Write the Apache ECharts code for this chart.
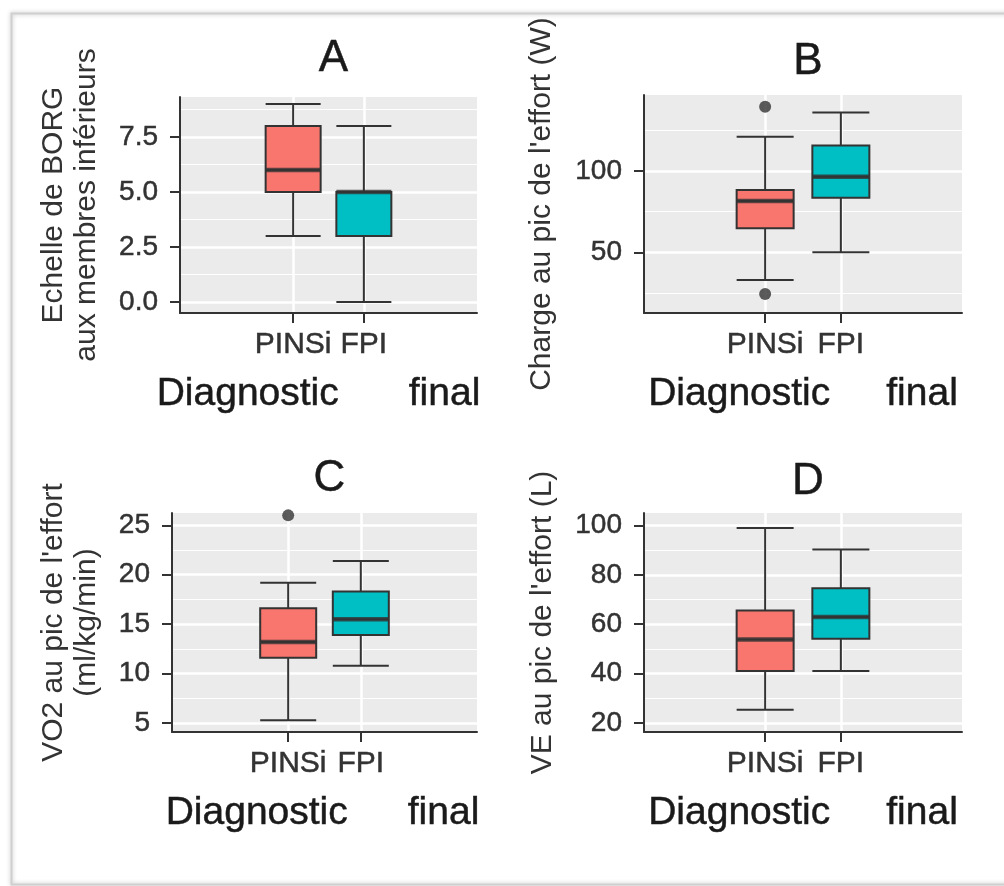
<!DOCTYPE html>
<html>
<head>
<meta charset="utf-8">
<script src="https://cdn.jsdelivr.net/npm/echarts@6/dist/echarts.min.js"></script>
<style>
html, body { margin: 0; padding: 0; background: #fff; }
#main { width: 1004px; height: 886px; }
</style>
</head>
<body>
<div id="main"></div>
<script>
var categories = ['PINSi', 'FPI'];
var boxColors = ['#F8766D', '#00BFC4'];

// box stats: [min, Q1, median, Q3, max]
var borgPINSi = [3, 5, 6, 8, 9];
var borgFPI = [0, 3, 5, 5, 8];
var chargePINSi = [33, 64.8, 81.5, 88.3, 121];
var chargeFPI = [50, 83.6, 96.5, 115.6, 136];
var chargeOutliersPINSi = [139.5, 24.4];
var vo2PINSi = [5.3, 11.6, 13.2, 16.6, 19.2];
var vo2FPI = [10.8, 13.9, 15.5, 18.3, 21.4];
var vo2OutliersPINSi = [26];
var vePINSi = [25.4, 41.1, 53.8, 65.6, 98.9];
var veFPI = [41.1, 54.1, 62.9, 74.6, 90.2];

// y ticks
var ticksA = [0, 2.5, 5, 7.5];
var labelsA = ['0.0', '2.5', '5.0', '7.5'];
var minorA = [1.25, 3.75, 6.25, 8.75];
var ticksB = [50, 100];
var labelsB = ['50', '100'];
var minorB = [25, 75, 125];
var ticksC = [5, 10, 15, 20, 25];
var labelsC = ['5', '10', '15', '20', '25'];
var minorC = [7.5, 12.5, 17.5, 22.5];
var ticksD = [20, 40, 60, 80, 100];
var labelsD = ['20', '40', '60', '80', '100'];
var minorD = [30, 50, 70, 90];

var panels = [
  { title: 'A', yName: 'Echelle de BORG\naux membres inférieurs', stats: [borgPINSi, borgFPI], out: [],
    ticks: ticksA, labels: labelsA, minor: minorA, min: -0.5, max: 9.32,
    grid: { left: 180, top: 97, width: 297, height: 216 }, nameGap: 77, titleTop: 32, boxW: 55, xShift: -10, gap: 70 },
  { title: 'B', yName: "Charge au pic de l'effort (W)", stats: [chargePINSi, chargeFPI], out: chargeOutliersPINSi,
    ticks: ticksB, labels: labelsB, minor: minorB, min: 12.7, max: 146.7,
    grid: { left: 644, top: 95, width: 318, height: 218 }, nameGap: 86, titleTop: 35, boxW: 57, xShift: 0, gap: 56 },
  { title: 'C', yName: "VO2 au pic de l'effort\n(ml/kg/min)", stats: [vo2PINSi, vo2FPI], out: vo2OutliersPINSi,
    ticks: ticksC, labels: labelsC, minor: minorC, min: 4.1, max: 26.24,
    grid: { left: 172, top: 513, width: 305, height: 219 }, nameGap: 69, titleTop: 452, boxW: 56, xShift: -2, gap: 60 },
  { title: 'D', yName: "VE au pic de l'effort (L)", stats: [vePINSi, veFPI], out: [],
    ticks: ticksD, labels: labelsD, minor: minorD, min: 16.4, max: 105,
    grid: { left: 644, top: 513, width: 318, height: 219 }, nameGap: 85, titleTop: 455, boxW: 57, xShift: 0, gap: 56 }
];

// padded category slots so the two groups sit where ggplot puts them
var slotCount = 22;
var catSlots = [8, 13];
var axisData = [];
for (var i = 0; i < slotCount; i++) axisData.push('_' + i);
catSlots.forEach(function (s, k) { axisData[s] = categories[k]; });
function isCat(idx) { return catSlots.indexOf(idx) >= 0; }

var font = 'Liberation Sans';
var option = {
  animation: false,
  textStyle: { fontFamily: font },
  title: [], grid: [], xAxis: [], yAxis: [], series: [],
  graphic: [{
    type: 'rect', left: 9, top: 11, silent: true,
    shape: { width: 1010, height: 871 },
    style: { fill: 'none', stroke: '#cfcfcf', lineWidth: 2, shadowBlur: 4, shadowColor: 'rgba(0,0,0,0.25)' }
  }]
};

panels.forEach(function (p, n) {
  var g = p.grid;
  option.grid.push({ left: g.left, top: g.top, width: g.width, height: g.height,
    show: true, backgroundColor: '#EBEBEB', borderWidth: 0 });
  option.title.push({ text: p.title, left: g.left + g.width / 2, top: p.titleTop, textAlign: 'center',
    textStyle: { fontFamily: font, fontSize: 44, fontWeight: 'normal', color: '#1a1a1a',
      textBorderColor: '#1a1a1a', textBorderWidth: 0.5 } });
  option.xAxis.push({
    type: 'category', gridIndex: n, data: axisData, boundaryGap: false,
    axisLine: { onZero: false, lineStyle: { color: '#333', width: 2 } },
    axisTick: { length: 10, interval: isCat, lineStyle: { color: '#333', width: 2 } },
    axisLabel: { interval: isCat, margin: 17, fontSize: 30, color: '#333', fontFamily: font,
      textBorderColor: '#333', textBorderWidth: 0.5 },
    splitLine: { show: true, interval: isCat, lineStyle: { color: '#fff', width: 2.5 } },
    name: 'Diagnostic{g|}final', nameLocation: 'middle', nameGap: 62,
    nameTextStyle: { fontSize: 39, color: '#1a1a1a', fontFamily: font, padding: [0, 0, 0, p.xShift * 2],
      textBorderColor: '#1a1a1a', textBorderWidth: 0.5, rich: { g: { width: p.gap } } }
  });
  var lbl = p.labels, tk = p.ticks;
  option.yAxis.push({
    type: 'value', gridIndex: n, min: p.min, max: p.max,
    axisLine: { show: true, onZero: false, lineStyle: { color: '#333', width: 2 } },
    axisTick: { show: true, length: 10, customValues: p.ticks, lineStyle: { color: '#333', width: 2 } },
    axisLabel: { customValues: p.ticks, margin: 22, fontSize: 28, color: '#333', fontFamily: font,
      textBorderColor: '#333', textBorderWidth: 0.5,
      formatter: function (v) { var k = tk.indexOf(v); return k >= 0 ? lbl[k] : ''; } },
    splitLine: { show: true, lineStyle: { color: '#fff', width: 2.5 } },
    name: p.yName, nameLocation: 'middle', nameGap: p.nameGap,
    nameTextStyle: { fontSize: 30, lineHeight: 33, color: '#333', fontFamily: font }
  });
  // minor grid lines
  option.yAxis.push({
    type: 'value', gridIndex: n, min: p.min, max: p.max, position: 'left',
    axisLine: { show: false }, axisLabel: { show: false },
    axisTick: { show: false, customValues: p.minor },
    splitLine: { show: true, lineStyle: { color: '#fff', width: 1.2 } }
  });
  var yi = 2 * n;
  option.series.push({
    type: 'boxplot', xAxisIndex: n, yAxisIndex: yi, boxWidth: [p.boxW, p.boxW],
    encode: { x: 0, y: [1, 2, 3, 4, 5] },
    itemStyle: { borderColor: '#333', borderWidth: 2 },
    emphasis: { disabled: true },
    data: p.stats.map(function (s, k) {
      return { value: [catSlots[k]].concat(s), itemStyle: { color: boxColors[k], borderColor: '#333' } };
    }),
    z: 3
  });
  option.series.push({
    type: 'scatter', xAxisIndex: n, yAxisIndex: yi, symbol: 'rect',
    symbolSize: [p.boxW, 4.5], itemStyle: { color: '#333' }, silent: true,
    data: p.stats.map(function (s, k) { return [catSlots[k], s[2]]; }),
    z: 4
  });
  option.series.push({
    type: 'scatter', xAxisIndex: n, yAxisIndex: yi, symbol: 'circle',
    symbolSize: 12, itemStyle: { color: '#333' }, silent: true,
    data: p.out.map(function (v) { return [catSlots[0], v]; }),
    z: 4
  });
});

var chartDom = document.getElementById('main');
var myChart = echarts.init(chartDom, null, { renderer: 'canvas' });
myChart.setOption(option);
</script>
</body>
</html>
